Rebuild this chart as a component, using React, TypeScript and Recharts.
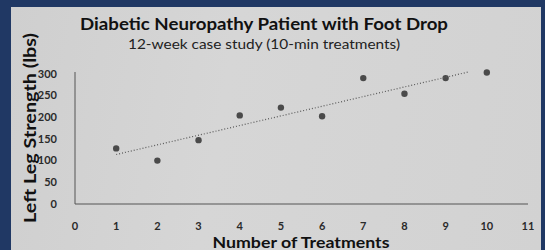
import { ScatterChart, Scatter, XAxis, YAxis } from "recharts";

const treatments = [1, 2, 3, 4, 5, 6, 7, 8, 9, 10];
const strength = [128, 100, 147, 204, 222, 202, 290, 254, 290, 303];
const xTicks = [0, 1, 2, 3, 4, 5, 6, 7, 8, 9, 10, 11];
const yTicks = [0, 50, 100, 150, 200, 250, 300];
// dotted linear trendline endpoints as drawn in the picture
const trendX = [1, 9.55];
const trendY = [114, 304];

const points = treatments.map((t, i) => ({ x: t, y: strength[i] }));
const trend = trendX.map((t, i) => ({ x: t, y: trendY[i] }));

const tickStyle = { fontSize: 11, fontWeight: 700, fill: "#2a2a2a", fontFamily: "Lato, sans-serif" };

export default function App() {
  return (
    <div style={{ position: "fixed", left: 0, top: 0, width: 545, height: 250, background: "#203864", overflow: "hidden" }}>
      <div style={{ position: "absolute", left: 11, top: 7, width: 530, height: 243, background: "linear-gradient(100deg, #cfcfcf 0%, #d6d6d6 40%, #d2d2d2 100%)" }} />
      <div style={{ position: "absolute", left: 0, top: 0 }}>
        <ScatterChart width={545} height={250} margin={{ top: 72, right: 17, bottom: 16, left: 35 }}>
          <XAxis
            type="number"
            dataKey="x"
            domain={[0, 11]}
            ticks={xTicks}
            tick={tickStyle}
            tickLine={false}
            tickMargin={12}
            height={30}
            axisLine={{ stroke: "#555", strokeWidth: 1 }}
          />
          <YAxis
            type="number"
            dataKey="y"
            domain={[0, 300]}
            ticks={yTicks}
            tick={tickStyle}
            tickLine={false}
            tickMargin={12}
            width={40}
            axisLine={{ stroke: "#555", strokeWidth: 1 }}
          />
          <Scatter data={points} fill="#4a4a4a" isAnimationActive={false} shape={(p: any) => <circle cx={p.cx} cy={p.cy} r={3.2} fill="#4a4a4a" />} />
          <Scatter
            data={trend}
            isAnimationActive={false}
            line={{ stroke: "#5a5a5a", strokeWidth: 1.2, strokeDasharray: "1 2" }}
            shape={() => <g />}
          />
        </ScatterChart>
      </div>
      <svg width={545} height={250} style={{ position: "absolute", left: 0, top: 0, pointerEvents: "none" }}>
        <text x={264} y={30} textAnchor="middle" fontFamily="Lato, sans-serif" fontWeight={700} fontSize={17} fill="#111" textLength={368} lengthAdjust="spacingAndGlyphs">
          Diabetic Neuropathy Patient with Foot Drop
        </text>
        <text x={264} y={49} textAnchor="middle" fontFamily="Lato, sans-serif" fontSize={14} fill="#222" textLength={272} lengthAdjust="spacingAndGlyphs">
          12-week case study (10-min treatments)
        </text>
        <text
          transform="translate(36,128) rotate(-90)"
          textAnchor="middle"
          fontFamily="Lato, sans-serif"
          fontWeight={700}
          fontSize={17}
          fill="#111"
          textLength={190}
          lengthAdjust="spacingAndGlyphs"
        >
          Left Leg Strength (lbs)
        </text>
        <text x={301} y={248} textAnchor="middle" fontFamily="Lato, sans-serif" fontWeight={700} fontSize={16} fill="#111" textLength={177} lengthAdjust="spacingAndGlyphs">
          Number of Treatments
        </text>
      </svg>
    </div>
  );
}
